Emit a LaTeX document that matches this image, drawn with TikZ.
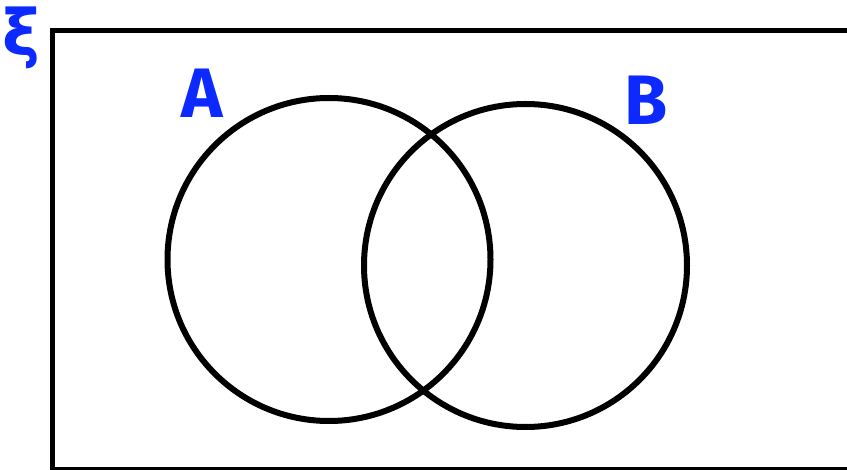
\documentclass[tikz,border=0pt]{standalone}
\usepackage{fontspec}
\setmainfont{Fira Sans}
\newfontfamily\symfont{DejaVu Sans}
\definecolor{lblblue}{RGB}{12,42,255}
\begin{document}
\begin{tikzpicture}[x=1pt,y=-1pt,
  setcircle/.style={draw=black,line width=6pt},
  frame/.style={draw=black,line width=5.5pt},
  setlabel/.style={text=lblblue,inner sep=0pt,font=\fontsize{70}{70}\selectfont\bfseries}]
  \useasboundingbox (0,0) rectangle (847,470);
  \clip (0,0) rectangle (847,470);
  \fill[white] (0,0) rectangle (847,470);
  \draw[frame] (52.5,30.5) rectangle (870,469.5);
  \node[setcircle,circle,minimum size=323pt,inner sep=0pt] (A) at (329,259.5) {};
  \node[setcircle,circle,minimum size=323pt,inner sep=0pt] (B) at (525.5,265.5) {};
  \node[setlabel] (la) at (202,93) {A};
  \node[setlabel] (lb) at (646,100) {B};
  \node[setlabel,font=\symfont\fontsize{64}{64}\selectfont\bfseries] (xi) at (21,38) {ξ};
\end{tikzpicture}
\end{document}
